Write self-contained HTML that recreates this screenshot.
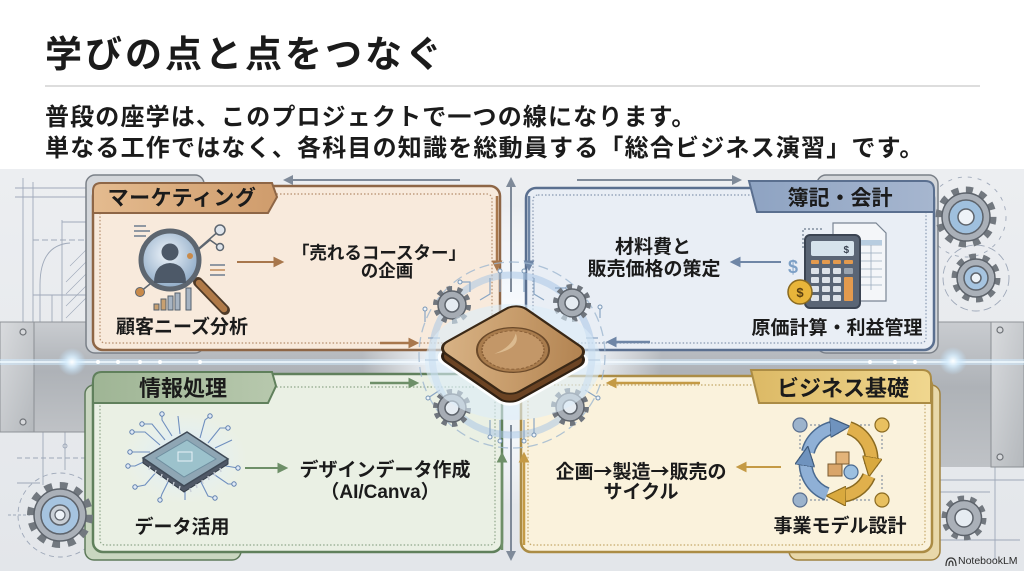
<!DOCTYPE html>
<html><head><meta charset="utf-8">
<style>
html,body{margin:0;padding:0;}
body{width:1024px;height:571px;overflow:hidden;background:#fff;position:relative;font-family:"Liberation Sans","Noto Sans CJK JP",sans-serif;}
svg{position:absolute;left:0;top:0;}
.t{position:absolute;font-weight:bold;color:#1b1b1b;white-space:nowrap;line-height:1;}
.c{text-align:center;}
.ar{font-family:"Noto Sans CJK JP",sans-serif;}
</style></head>
<body>
<svg width="1024" height="571" viewBox="0 0 1024 571" xmlns="http://www.w3.org/2000/svg">
<defs>
  <linearGradient id="bg" x1="0" y1="0" x2="0" y2="1">
    <stop offset="0" stop-color="#eceef1"/><stop offset="1" stop-color="#e3e6ea"/>
  </linearGradient>
  <radialGradient id="cg" cx="512" cy="355" r="150" gradientUnits="userSpaceOnUse">
    <stop offset="0" stop-color="#ffffff" stop-opacity="1"/>
    <stop offset="0.55" stop-color="#f3f8fd" stop-opacity="0.85"/>
    <stop offset="1" stop-color="#ffffff" stop-opacity="0"/>
  </radialGradient>
  <linearGradient id="metal" x1="0" y1="0" x2="0" y2="1">
    <stop offset="0" stop-color="#c9ccd0"/><stop offset="0.45" stop-color="#aeb2b7"/><stop offset="1" stop-color="#bfc2c6"/>
  </linearGradient>
  <linearGradient id="plate" x1="0" y1="0" x2="1" y2="1">
    <stop offset="0" stop-color="#d9dbde"/><stop offset="1" stop-color="#b4b8bc"/>
  </linearGradient>
  <linearGradient id="tabO" x1="0" y1="0" x2="1" y2="0">
    <stop offset="0" stop-color="#e4bb8f"/><stop offset="1" stop-color="#cf9c6c"/>
  </linearGradient>
  <linearGradient id="tabB" x1="0" y1="0" x2="1" y2="0">
    <stop offset="0" stop-color="#8ea3c2"/><stop offset="1" stop-color="#a6b6cf"/>
  </linearGradient>
  <linearGradient id="tabG" x1="0" y1="0" x2="1" y2="0">
    <stop offset="0" stop-color="#9fb595"/><stop offset="1" stop-color="#b7c8ad"/>
  </linearGradient>
  <linearGradient id="tabY" x1="0" y1="0" x2="1" y2="0">
    <stop offset="0" stop-color="#dcb965"/><stop offset="1" stop-color="#f0d78f"/>
  </linearGradient>
  <radialGradient id="lens" cx="0.45" cy="0.4" r="0.6">
    <stop offset="0" stop-color="#eef4fa"/><stop offset="1" stop-color="#8eaac6"/>
  </radialGradient>
  <linearGradient id="wood" x1="0" y1="0" x2="1" y2="1">
    <stop offset="0" stop-color="#d9b487"/><stop offset="0.5" stop-color="#c79c6b"/><stop offset="1" stop-color="#b0814f"/>
  </linearGradient>
  <radialGradient id="chipglow" cx="0.5" cy="0.5" r="0.5">
    <stop offset="0" stop-color="#cfe6fb" stop-opacity="1"/><stop offset="1" stop-color="#e9f3fb" stop-opacity="0"/>
  </radialGradient>
  <radialGradient id="spot" cx="0.5" cy="0.5" r="0.5">
    <stop offset="0" stop-color="#ffffff" stop-opacity="1"/><stop offset="0.4" stop-color="#d8efff" stop-opacity="0.8"/><stop offset="1" stop-color="#bfe3ff" stop-opacity="0"/>
  </radialGradient>
  <marker id="mBr" viewBox="0 0 10 10" refX="7" refY="5" markerWidth="11" markerHeight="11" markerUnits="userSpaceOnUse" orient="auto"><path d="M0,0 L10,5 L0,10 z" fill="#a8774c"/></marker>
  <marker id="mBl" viewBox="0 0 10 10" refX="7" refY="5" markerWidth="11" markerHeight="11" markerUnits="userSpaceOnUse" orient="auto"><path d="M0,0 L10,5 L0,10 z" fill="#6f86a6"/></marker>
  <marker id="mGr" viewBox="0 0 10 10" refX="7" refY="5" markerWidth="11" markerHeight="11" markerUnits="userSpaceOnUse" orient="auto"><path d="M0,0 L10,5 L0,10 z" fill="#6e8f68"/></marker>
  <marker id="mGo" viewBox="0 0 10 10" refX="7" refY="5" markerWidth="11" markerHeight="11" markerUnits="userSpaceOnUse" orient="auto"><path d="M0,0 L10,5 L0,10 z" fill="#c49a45"/></marker>
  <marker id="mGy" viewBox="0 0 10 10" refX="7" refY="5" markerWidth="10" markerHeight="10" markerUnits="userSpaceOnUse" orient="auto"><path d="M0,0 L10,5 L0,10 z" fill="#7f8a99"/></marker>
  <marker id="aBl" viewBox="0 0 10 10" refX="4" refY="5" markerWidth="20" markerHeight="20" markerUnits="userSpaceOnUse" orient="auto"><path d="M0,0 L10,5 L0,10 z" fill="#6f93be" stroke="#3f5a7a" stroke-width="0.6"/></marker>
  <marker id="aGo" viewBox="0 0 10 10" refX="4" refY="5" markerWidth="20" markerHeight="20" markerUnits="userSpaceOnUse" orient="auto"><path d="M0,0 L10,5 L0,10 z" fill="#d9a93e" stroke="#8a6a20" stroke-width="0.6"/></marker>
</defs>

<line x1="45" y1="86" x2="980" y2="86" stroke="#d2d2d2" stroke-width="1.5"/>

<rect x="0" y="169" width="1024" height="402" fill="url(#bg)"/>

<g stroke="#8793a8" stroke-width="0.9" fill="none" opacity="0.75">
  <line x1="15" y1="188" x2="90" y2="188"/>
  <line x1="15" y1="197" x2="90" y2="197"/>
  <line x1="23" y1="178" x2="23" y2="322"/>
  <line x1="33" y1="182" x2="33" y2="322"/>
  <line x1="62" y1="220" x2="62" y2="322"/>
  <line x1="62" y1="222" x2="90" y2="222"/>
  <line x1="33" y1="240" x2="90" y2="240" stroke-dasharray="6 3"/>
  <path d="M40,322 L40,285 Q40,245 70,243"/>
  <line x1="33" y1="295" x2="90" y2="295"/>
  <line x1="52" y1="295" x2="52" y2="322"/>
  <path d="M66,318 L86,298 M66,306 L86,286 M66,294 L86,274 M66,282 L86,262 M70,266 L86,250" stroke-width="0.6"/>
  <line x1="17" y1="458" x2="87" y2="458" stroke-dasharray="5 3"/>
  <line x1="43" y1="432" x2="43" y2="485"/>
  <line x1="65" y1="432" x2="65" y2="470"/>
  <line x1="17" y1="483" x2="40" y2="483"/>
  <circle cx="65" cy="446" r="2"/>
  <circle cx="60" cy="515" r="42" stroke-dasharray="5 4"/>
  <line x1="8" y1="515" x2="30" y2="515" stroke-dasharray="3 2"/>
  <line x1="940" y1="480" x2="1024" y2="480"/>
  <line x1="940" y1="492" x2="990" y2="492"/>
  <line x1="995" y1="467" x2="995" y2="560"/>
  <line x1="940" y1="540" x2="1020" y2="540"/>
  <circle cx="976" cy="278" r="33" stroke-dasharray="8 4"/>
  <circle cx="966" cy="217" r="40" stroke-dasharray="4 6"/>
</g>

<rect x="0" y="322" width="1024" height="110" fill="url(#metal)"/>
<rect x="900" y="322" width="124" height="145" fill="url(#metal)"/>
<rect x="0" y="322" width="34" height="110" fill="url(#plate)" stroke="#8b8f94" stroke-width="1"/>
<rect x="991" y="322" width="33" height="145" fill="url(#plate)" stroke="#8b8f94" stroke-width="1"/>
<line x1="0" y1="322" x2="1024" y2="322" stroke="#8f9398" stroke-width="1"/>
<line x1="0" y1="432" x2="900" y2="432" stroke="#8f9398" stroke-width="1"/>
<g fill="#d7d9dc" stroke="#6e7277" stroke-width="1.2">
  <circle cx="23" cy="332" r="3"/><circle cx="23" cy="422" r="3"/>
  <circle cx="1000" cy="330" r="3"/><circle cx="1000" cy="457" r="3"/>
</g>

<line x1="0" y1="362" x2="1024" y2="362" stroke="#cfeaff" stroke-width="6" opacity="0.5"/>
<line x1="0" y1="362" x2="1024" y2="362" stroke="#f2fbff" stroke-width="1.6"/>
<g fill="#ffffff">
  <circle cx="98" cy="362" r="2"/><circle cx="118" cy="362" r="2"/><circle cx="140" cy="362" r="2"/><circle cx="160" cy="362" r="2"/><circle cx="200" cy="362" r="2"/>
  <circle cx="870" cy="362" r="2"/><circle cx="895" cy="362" r="2"/><circle cx="915" cy="362" r="2"/>
</g>
<circle cx="72" cy="362" r="14" fill="url(#spot)"/>
<circle cx="953" cy="361" r="14" fill="url(#spot)"/>

<circle cx="512" cy="355" r="150" fill="url(#cg)"/>

<line x1="460" y1="180" x2="286" y2="180" stroke="#7f8a99" stroke-width="2" marker-end="url(#mGy)"/>
<line x1="577" y1="180" x2="739" y2="180" stroke="#7f8a99" stroke-width="2" marker-end="url(#mGy)"/>
<line x1="511" y1="292" x2="511" y2="180" stroke="#7f8a99" stroke-width="2" marker-end="url(#mGy)"/>
<line x1="511" y1="425" x2="511" y2="558" stroke="#7f8a99" stroke-width="2" marker-end="url(#mGy)"/>

<rect x="86" y="175" width="118" height="178" rx="9" fill="#d3d6da" stroke="#7a8088" stroke-width="1.5"/>
<rect x="93" y="186" width="407" height="164" rx="10" fill="#f8eadc" stroke="#8e6646" stroke-width="2.5"/>
<rect x="100" y="194" width="392" height="149" rx="5" fill="none" stroke="#b48d6c" stroke-width="1.2" stroke-dasharray="1.5 2"/>
<path d="M93,213 L93,191 Q93,183 101,183 L272,183 L277,197 L268,213 Z" fill="url(#tabO)" stroke="#8e6646" stroke-width="2"/>

<rect x="817" y="175" width="121" height="178" rx="9" fill="#d3d6da" stroke="#7a8088" stroke-width="1.5"/>
<rect x="526" y="188" width="408" height="162" rx="10" fill="#e9eef5" stroke="#5a6f8f" stroke-width="2.5"/>
<rect x="533" y="195" width="393" height="148" rx="5" fill="none" stroke="#8798b0" stroke-width="1.2" stroke-dasharray="1.5 2"/>
<path d="M749,181 L925,181 Q934,181 934,190 L934,212 L757,212 Z" fill="url(#tabB)" stroke="#5a6f8f" stroke-width="2"/>

<rect x="85" y="385" width="156" height="175" rx="9" fill="#c9d6c0" stroke="#5e7a5a" stroke-width="1.5"/>
<rect x="93" y="374" width="409" height="178" rx="10" fill="#eaf0e4" stroke="#60805c" stroke-width="2.5"/>
<rect x="100" y="387" width="395" height="158" rx="5" fill="none" stroke="#8fa68a" stroke-width="1.2" stroke-dasharray="1.5 2"/>
<path d="M93,403 L93,381 Q93,372 102,372 L272,372 L276,386 L268,403 Z" fill="url(#tabG)" stroke="#60805c" stroke-width="2"/>

<rect x="789" y="385" width="151" height="175" rx="9" fill="#e8d8aa" stroke="#a08240" stroke-width="1.5"/>
<rect x="521" y="376" width="411" height="176" rx="10" fill="#faf2dc" stroke="#ab8c45" stroke-width="2.5"/>
<rect x="528" y="385" width="397" height="160" rx="5" fill="none" stroke="#c4a86a" stroke-width="1.2" stroke-dasharray="1.5 2"/>
<path d="M751,370 L922,370 Q931,370 931,379 L931,403 L759,403 Z" fill="url(#tabY)" stroke="#ab8c45" stroke-width="2"/>

<line x1="497" y1="196" x2="497" y2="268" stroke="#a8774c" stroke-width="2.5" marker-end="url(#mBr)"/>
<line x1="380" y1="343" x2="416" y2="343" stroke="#a8774c" stroke-width="2.5" marker-end="url(#mBr)"/>
<line x1="529" y1="196" x2="529" y2="268" stroke="#6f86a6" stroke-width="2.5" marker-end="url(#mBl)"/>
<line x1="650" y1="342" x2="609" y2="342" stroke="#6f86a6" stroke-width="2.5" marker-end="url(#mBl)"/>
<line x1="370" y1="383" x2="416" y2="383" stroke="#6e8f68" stroke-width="2.5" marker-end="url(#mGr)"/>
<line x1="502" y1="550" x2="502" y2="455" stroke="#6e8f68" stroke-width="2.5" marker-end="url(#mGr)"/>
<line x1="700" y1="383" x2="609" y2="383" stroke="#c49a45" stroke-width="2.5" marker-end="url(#mGo)"/>
<line x1="524" y1="545" x2="524" y2="455" stroke="#c49a45" stroke-width="2.5" marker-end="url(#mGo)"/>

<line x1="237" y1="262" x2="281" y2="262" stroke="#a8774c" stroke-width="2" marker-end="url(#mBr)"/>
<line x1="781" y1="262" x2="733" y2="262" stroke="#6f86a6" stroke-width="2" marker-end="url(#mBl)"/>
<line x1="245" y1="468" x2="285" y2="468" stroke="#6e8f68" stroke-width="2" marker-end="url(#mGr)"/>
<line x1="781" y1="467" x2="739" y2="467" stroke="#c49a45" stroke-width="2" marker-end="url(#mGo)"/>

<g>
  <g stroke="#6d7c8e" stroke-width="1.5">
    <line x1="134" y1="226" x2="146" y2="226"/><line x1="134" y1="231" x2="150" y2="231"/><line x1="134" y1="236" x2="146" y2="236"/>
    <line x1="210" y1="265" x2="225" y2="265"/><line x1="210" y1="270" x2="225" y2="270" stroke="#c08a56"/><line x1="210" y1="275" x2="225" y2="275"/>
  </g>
  <line x1="190" y1="256" x2="220" y2="230" stroke="#5d6670" stroke-width="1.5"/>
  <polyline points="198,250 210,240 220,247" fill="none" stroke="#5d6670" stroke-width="1.5"/>
  <line x1="155" y1="280" x2="140" y2="292" stroke="#5d6670" stroke-width="1.5"/>
  <line x1="198" y1="282" x2="225" y2="310" stroke="#4e3a28" stroke-width="10" stroke-linecap="round"/>
  <line x1="199" y1="283" x2="224" y2="309" stroke="#b07a48" stroke-width="6.5" stroke-linecap="round"/>
  <circle cx="170" cy="260" r="29" fill="url(#lens)" stroke="#5d6670" stroke-width="5"/>
  <circle cx="170" cy="252" r="8.5" fill="#4d5968"/>
  <path d="M154,283 Q154,264 170,263 Q186,264 186,283 Z" fill="#4d5968"/>
  <circle cx="220" cy="230" r="5" fill="#dfe5ec" stroke="#5d6670" stroke-width="1.5"/>
  <circle cx="220" cy="247" r="3.5" fill="#dfe5ec" stroke="#5d6670" stroke-width="1.5"/>
  <circle cx="190" cy="256" r="3" fill="#c88a4a"/>
  <circle cx="140" cy="292" r="4.5" fill="#c88a4a" stroke="#5d6670" stroke-width="1"/>
  <g stroke="#55606d" stroke-width="1">
    <rect x="154" y="304" width="5" height="6" fill="#c9a070"/>
    <rect x="161" y="299" width="5" height="11" fill="#c9a070"/>
    <rect x="168" y="296" width="5" height="14" fill="#a6b3c2"/>
    <rect x="175" y="293" width="5" height="17" fill="#a6b3c2"/>
    <rect x="186" y="288" width="5" height="22" fill="#a6b3c2"/>
  </g>
</g>

<g>
  <path d="M833,223 L876,223 L886,233 L886,301 L833,301 Z" fill="#f4f6f9" stroke="#7a8594" stroke-width="1.2"/>
  <g stroke="#9aabbd" stroke-width="0.8">
    <line x1="860" y1="245" x2="882" y2="245"/><line x1="860" y1="253" x2="882" y2="253"/><line x1="860" y1="261" x2="882" y2="261"/>
    <line x1="860" y1="269" x2="882" y2="269"/><line x1="860" y1="277" x2="882" y2="277"/><line x1="860" y1="285" x2="882" y2="285"/>
    <line x1="871" y1="240" x2="871" y2="290"/>
  </g>
  <rect x="860" y="240" width="22" height="5" fill="#b8cde0"/>
  <polyline points="803,248 803,229 822,229" fill="none" stroke="#6d7c8e" stroke-width="1.2" stroke-dasharray="2 2"/>
  <rect x="805" y="235" width="55" height="73" rx="5" fill="#5a6575" stroke="#3b4452" stroke-width="2"/>
  <rect x="811" y="241" width="43" height="15" rx="2" fill="#d6e3ec"/>
  <text x="849" y="253" font-family="Liberation Sans" font-size="10" font-weight="bold" fill="#3b4452" text-anchor="end">$</text>
  <g fill="#e39a4e"><rect x="811" y="260" width="8" height="4" rx="1"/><rect x="822" y="260" width="8" height="4" rx="1"/><rect x="833" y="260" width="8" height="4" rx="1"/><rect x="844" y="260" width="9" height="4" rx="1"/></g>
  <g fill="#dde2e8">
    <rect x="811" y="268" width="8" height="6" rx="1"/><rect x="822" y="268" width="8" height="6" rx="1"/><rect x="833" y="268" width="8" height="6" rx="1"/><rect x="844" y="268" width="9" height="6" rx="1" fill="#9aa4b0"/>
    <rect x="811" y="277" width="8" height="6" rx="1"/><rect x="822" y="277" width="8" height="6" rx="1"/><rect x="833" y="277" width="8" height="6" rx="1"/>
    <rect x="811" y="286" width="8" height="6" rx="1"/><rect x="822" y="286" width="8" height="6" rx="1"/><rect x="833" y="286" width="8" height="6" rx="1"/>
    <rect x="811" y="295" width="8" height="6" rx="1"/><rect x="822" y="295" width="8" height="6" rx="1"/><rect x="833" y="295" width="8" height="6" rx="1"/>
  </g>
  <rect x="844" y="277" width="9" height="24" rx="1" fill="#e39a4e"/>
  <text x="793" y="273" font-family="Liberation Sans" font-size="18" font-weight="bold" fill="#7da0c6" text-anchor="middle">$</text>
  <circle cx="800" cy="292" r="12" fill="#e8b53a" stroke="#8a6a20" stroke-width="1.5"/>
  <text x="800" y="297" font-family="Liberation Sans" font-size="13" font-weight="bold" fill="#5a3f10" text-anchor="middle">$</text>
</g>

<g>
  <ellipse cx="185" cy="458" rx="62" ry="46" fill="url(#chipglow)"/>
  <g stroke="#6f8fbf" stroke-width="1.1" fill="none">
    <path d="M160,445 L145,432 L132,432"/><path d="M165,440 L152,424 L142,424"/><path d="M172,436 L162,420 L162,414"/>
    <path d="M180,434 L178,416"/><path d="M200,438 L205,420 L210,416"/><path d="M208,443 L220,428 L228,428"/>
    <path d="M215,448 L232,440"/><path d="M150,452 L130,452"/><path d="M152,458 L135,466 L128,466"/>
    <path d="M158,470 L145,485 L135,487"/><path d="M170,478 L162,494 L160,500"/><path d="M185,485 L185,500"/>
    <path d="M200,480 L208,496 L215,498"/><path d="M212,473 L228,484 L234,484"/><path d="M220,465 L238,468"/>
  </g>
  <g fill="#dfe9f5" stroke="#5f7fae" stroke-width="1">
    <circle cx="132" cy="432" r="2.2"/><circle cx="142" cy="424" r="2.2"/><circle cx="162" cy="414" r="2.2"/><circle cx="210" cy="416" r="2.2"/>
    <circle cx="228" cy="428" r="2.2"/><circle cx="130" cy="452" r="2.2"/><circle cx="128" cy="466" r="2.2"/><circle cx="135" cy="487" r="2.2"/>
    <circle cx="160" cy="500" r="2.2"/><circle cx="215" cy="498" r="2.2"/><circle cx="234" cy="484" r="2.2"/><circle cx="238" cy="468" r="2.2"/>
  </g>
  <polygon points="143,458 184,486 228,459 228,464 184,492 143,463" fill="#4f5866" stroke="#333c48" stroke-width="1"/>
  <g stroke="#c8ced6" stroke-width="1.4">
    <line x1="150" y1="466" x2="149" y2="470"/><line x1="156" y1="470" x2="155" y2="474"/><line x1="162" y1="474" x2="161" y2="478"/><line x1="168" y1="478" x2="167" y2="482"/><line x1="174" y1="482" x2="173" y2="486"/><line x1="180" y1="486" x2="179" y2="490"/>
    <line x1="190" y1="488" x2="191" y2="492"/><line x1="196" y1="484" x2="197" y2="488"/><line x1="202" y1="480" x2="203" y2="484"/><line x1="208" y1="476" x2="209" y2="480"/><line x1="214" y1="472" x2="215" y2="476"/><line x1="220" y1="468" x2="221" y2="472"/>
  </g>
  <polygon points="143,458 187,432 228,459 184,486" fill="#8fa6b4" stroke="#3f4a57" stroke-width="1.5"/>
  <polygon points="156,458 187,440 216,459 184,477" fill="#9cc2cc" stroke="#6f8fa0" stroke-width="1"/>
  <rect x="178" y="452" width="14" height="9" fill="none" stroke="#e8f2f8" stroke-width="1"/>
</g>

<g fill="none" stroke-linecap="butt">
  <g stroke="#8a95a3" stroke-width="1.2" stroke-dasharray="2 2">
    <line x1="810" y1="425" x2="830" y2="425"/><line x1="852" y1="425" x2="872" y2="425"/>
    <line x1="810" y1="500" x2="830" y2="500"/><line x1="852" y1="500" x2="872" y2="500"/>
    <line x1="800" y1="435" x2="800" y2="450"/><line x1="882" y1="435" x2="882" y2="450"/>
    <line x1="800" y1="475" x2="800" y2="490"/><line x1="882" y1="475" x2="882" y2="490"/>
  </g>
  <path d="M808,452 A33,33 0 0 1 838,427" stroke="#4a6a90" stroke-width="14"/>
  <path d="M808,452 A33,33 0 0 1 838,427" stroke="#8fb0d6" stroke-width="11" marker-end="url(#aBl)"/>
  <path d="M849,428 A33,33 0 0 1 871,465" stroke="#8a6a20" stroke-width="14"/>
  <path d="M849,428 A33,33 0 0 1 871,465" stroke="#e0b04c" stroke-width="11" marker-end="url(#aGo)"/>
  <path d="M869,476 A33,33 0 0 1 838,496" stroke="#8a6a20" stroke-width="14"/>
  <path d="M869,476 A33,33 0 0 1 838,496" stroke="#e0b04c" stroke-width="11" marker-end="url(#aGo)"/>
  <path d="M827,494 A33,33 0 0 1 806,458" stroke="#4a6a90" stroke-width="14"/>
  <path d="M827,494 A33,33 0 0 1 806,458" stroke="#8fb0d6" stroke-width="11" marker-end="url(#aBl)"/>
  <g stroke="#7a5a30" stroke-width="1">
    <rect x="828" y="464" width="14" height="12" fill="#d9a56a"/>
    <rect x="836" y="452" width="13" height="12" fill="#e3b47a"/>
  </g>
  <circle cx="851" cy="472" r="7" fill="#9cc0e0" stroke="#4a6a90" stroke-width="1.2"/>
  <circle cx="800" cy="425" r="7" fill="#9cb3cc" stroke="#5a6f8f" stroke-width="1.2"/>
  <circle cx="882" cy="425" r="7" fill="#e8c060" stroke="#8a6a20" stroke-width="1.2"/>
  <circle cx="800" cy="500" r="7" fill="#9cb3cc" stroke="#5a6f8f" stroke-width="1.2"/>
  <circle cx="882" cy="500" r="7" fill="#e8c060" stroke="#8a6a20" stroke-width="1.2"/>
</g>

<g fill="none">
  <circle cx="512" cy="355" r="80" stroke="#a9c7e6" stroke-width="7" opacity="0.55"/>
  <circle cx="512" cy="355" r="93" stroke="#9db6d0" stroke-width="1.3" stroke-dasharray="10 5" opacity="0.8"/>
  <g stroke="#8aa6c4" stroke-width="1.2">
    <path d="M500,272 L500,292"/><path d="M490,278 L490,294 L480,300"/><path d="M524,272 L524,292"/><path d="M534,278 L534,294 L544,300"/>
    <path d="M470,292 L470,282 L460,282"/><path d="M555,288 L568,288"/>
    <path d="M500,420 L500,440"/><path d="M490,420 L490,436"/><path d="M524,420 L524,440"/><path d="M534,418 L534,434"/>
    <path d="M428,338 L440,338"/><path d="M425,360 L438,360"/><path d="M586,338 L598,338"/><path d="M588,360 L600,360"/>
    <path d="M425,322 L425,310"/><path d="M600,318 L600,308"/><path d="M440,390 L428,398"/><path d="M585,390 L598,398"/>
  </g>
  <g fill="#eef4fa" stroke="#7a97b6" stroke-width="1">
    <circle cx="500" cy="271" r="2"/><circle cx="524" cy="271" r="2"/><circle cx="460" cy="282" r="2"/><circle cx="568" cy="288" r="2"/>
    <circle cx="500" cy="441" r="2"/><circle cx="490" cy="437" r="2"/><circle cx="524" cy="441" r="2"/><circle cx="534" cy="435" r="2"/>
    <circle cx="425" cy="309" r="2"/><circle cx="600" cy="307" r="2"/><circle cx="428" cy="398" r="2"/><circle cx="598" cy="398" r="2"/>
  </g>
</g>

<g>
  <g transform="translate(452,305)">
    <circle r="16" fill="none" stroke="#6f757d" stroke-width="6" stroke-dasharray="5 5.05"/>
    <circle r="14" fill="#a6acb4" stroke="#5d636b" stroke-width="1.5"/>
    <circle r="7" fill="#e6ecf2" stroke="#5d636b" stroke-width="1.5"/>
  </g>
  <g transform="translate(572,303)">
    <circle r="16" fill="none" stroke="#6f757d" stroke-width="6" stroke-dasharray="5 5.05"/>
    <circle r="14" fill="#a6acb4" stroke="#5d636b" stroke-width="1.5"/>
    <circle r="7" fill="#e6ecf2" stroke="#5d636b" stroke-width="1.5"/>
  </g>
  <g transform="translate(452,408)">
    <circle r="16" fill="none" stroke="#6f757d" stroke-width="6" stroke-dasharray="5 5.05"/>
    <circle r="14" fill="#a6acb4" stroke="#5d636b" stroke-width="1.5"/>
    <circle r="7" fill="#e6ecf2" stroke="#5d636b" stroke-width="1.5"/>
  </g>
  <g transform="translate(570,407)">
    <circle r="16" fill="none" stroke="#6f757d" stroke-width="6" stroke-dasharray="5 5.05"/>
    <circle r="14" fill="#a6acb4" stroke="#5d636b" stroke-width="1.5"/>
    <circle r="7" fill="#e6ecf2" stroke="#5d636b" stroke-width="1.5"/>
  </g>
  <g transform="translate(966,217)">
    <circle r="27" fill="none" stroke="#72787f" stroke-width="7" stroke-dasharray="7 7.1"/>
    <circle r="24" fill="#aab0b8" stroke="#5d636b" stroke-width="1.5"/>
    <circle r="17" fill="#9fc0de" stroke="#5d636b" stroke-width="1.5"/>
    <circle r="8" fill="#eef3f8" stroke="#5d636b" stroke-width="1.5"/>
  </g>
  <g transform="translate(976,278)">
    <circle r="21.5" fill="none" stroke="#72787f" stroke-width="6" stroke-dasharray="6.7 6.8"/>
    <circle r="19" fill="#aab0b8" stroke="#5d636b" stroke-width="1.5"/>
    <circle r="12" fill="#a6c4e0" stroke="#5d636b" stroke-width="1.5"/>
    <circle r="5" fill="#eef3f8" stroke="#5d636b" stroke-width="1.5"/>
  </g>
  <g transform="translate(964,518)">
    <circle r="19.75" fill="none" stroke="#72787f" stroke-width="5.5" stroke-dasharray="6.2 6.2"/>
    <circle r="17.5" fill="#aab0b8" stroke="#5d636b" stroke-width="1.5"/>
    <circle r="9" fill="#e6ecf2" stroke="#5d636b" stroke-width="1.5"/>
  </g>
  <g transform="translate(60,515)">
    <circle r="29.5" fill="none" stroke="#72787f" stroke-width="7" stroke-dasharray="7.7 7.7"/>
    <circle r="26" fill="#aab0b8" stroke="#5d636b" stroke-width="1.5"/>
    <circle r="19" fill="#a6c4e0" stroke="#5d636b" stroke-width="1.5"/>
    <circle r="10" fill="#c9cfd6" stroke="#5d636b" stroke-width="1.5"/>
    <circle r="5" fill="#eef3f8" stroke="#5d636b" stroke-width="1.2"/>
  </g>
</g>

<ellipse cx="513" cy="362" rx="88" ry="58" fill="#dcecf9" opacity="0.6"/>
<g transform="translate(513,359) scale(1,0.62) rotate(-42)">
  <rect x="-58" y="-58" width="116" height="116" rx="16" fill="#ffffff" opacity="0.9"/>
</g>
<g transform="translate(513,358) scale(1,0.62) rotate(-42)">
  <rect x="-54" y="-54" width="108" height="108" rx="14" fill="#6b4323" stroke="#2e1f12" stroke-width="3"/>
</g>
<g transform="translate(513,350) scale(1,0.62) rotate(-42)">
  <rect x="-54" y="-54" width="108" height="108" rx="14" fill="url(#wood)" stroke="#3a2816" stroke-width="3"/>
  <circle r="36" fill="#a97c4d" stroke="#6b4a2a" stroke-width="2"/>
  <circle r="31" fill="#c39768" stroke="#8a6038" stroke-width="1.5" stroke-dasharray="3 2"/>
  <path d="M-18,-8 Q2,-4 20,-18 Q8,4 -18,-8 Z" fill="#e2c49a" opacity="0.8"/>
</g>

<g fill="none" stroke="#333" stroke-width="1.2">
  <path d="M946,566 Q946,558 951,558 Q956,558 956,566"/>
  <path d="M949,566 Q949,561 951,561 Q953,561 953,566"/>
</g>
</svg>

<div class="t" style="left:45px;top:36px;font-size:37px;letter-spacing:3px;">学びの点と点をつなぐ</div>
<div class="t" style="left:45px;top:106px;font-size:24px;letter-spacing:1.15px;">普段の座学は、このプロジェクトで一つの線になります。</div>
<div class="t" style="left:45px;top:137px;font-size:24px;letter-spacing:1.2px;">単なる工作ではなく、各科目の知識を総動員する「総合ビジネス演習」です。</div>

<div class="t c" style="left:92px;width:180px;top:188px;font-size:21px;letter-spacing:0.5px;">マーケティング</div>
<div class="t c" style="left:749px;width:182px;top:188px;font-size:21px;">簿記・会計</div>
<div class="t c" style="left:93px;width:180px;top:378px;font-size:22px;">情報処理</div>
<div class="t c" style="left:753px;width:180px;top:378px;font-size:22px;">ビジネス基礎</div>

<div class="t c" style="left:82px;width:200px;top:318px;font-size:19px;">顧客ニーズ分析</div>
<div class="t c" style="left:279px;width:200px;top:245px;font-size:17.5px;">「売れるコースター」</div>
<div class="t c" style="left:287px;width:200px;top:263px;font-size:17.5px;">の企画</div>

<div class="t c" style="left:553px;width:200px;top:238px;font-size:19px;">材料費と</div>
<div class="t c" style="left:554px;width:200px;top:260px;font-size:19px;">販売価格の策定</div>
<div class="t c" style="left:737px;width:200px;top:319px;font-size:19px;">原価計算・利益管理</div>

<div class="t c" style="left:285px;width:200px;top:461px;font-size:19px;">デザインデータ作成</div>
<div class="t c" style="left:280px;width:200px;top:483px;font-size:19px;">（AI/Canva）</div>
<div class="t c" style="left:82px;width:200px;top:518px;font-size:19px;">データ活用</div>

<div class="t c" style="left:541px;width:200px;top:461px;font-size:19px;">企画<span class="ar">→</span>製造<span class="ar">→</span>販売の</div>
<div class="t c" style="left:541px;width:200px;top:483px;font-size:19px;">サイクル</div>
<div class="t c" style="left:740px;width:200px;top:517px;font-size:19px;">事業モデル設計</div>

<div class="t" style="left:958px;top:556px;font-size:10.5px;font-weight:normal;color:#2b2b2b;">NotebookLM</div>
</body></html>
